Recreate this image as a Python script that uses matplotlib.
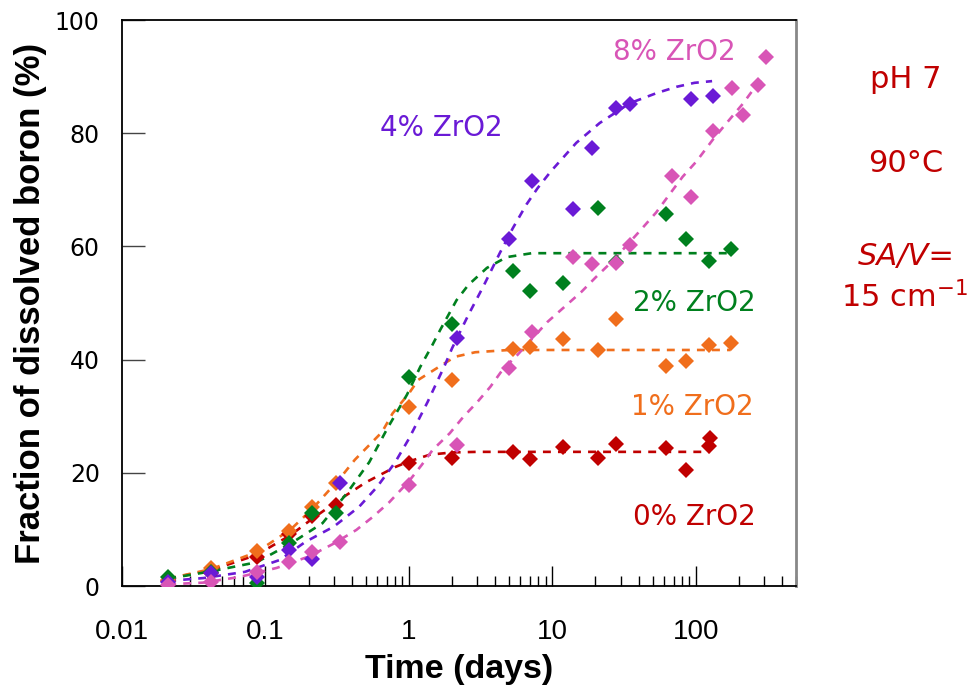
import matplotlib
matplotlib.use("Agg")
import matplotlib.pyplot as plt
from matplotlib.ticker import LogLocator, NullFormatter

# measured points: time (days) and dissolved boron fraction (%)
t_0 = [0.021, 0.042, 0.087, 0.146, 0.21, 0.31, 1.0, 2.0, 5.3, 7.0, 11.8, 20.7, 27.7, 61.8, 85, 123, 126]
y_0 = [0.9, 2.3, 5.1, 9.2, 12.4, 14.3, 21.7, 22.6, 23.7, 22.4, 24.6, 22.6, 25.1, 24.4, 20.5, 24.7, 26.1]

t_1 = [0.021, 0.042, 0.087, 0.146, 0.21, 0.31, 1.0, 2.0, 5.3, 7.0, 11.8, 20.7, 27.7, 61.8, 85, 123, 175]
y_1 = [1.0, 3.2, 6.2, 9.7, 14.0, 18.2, 31.6, 36.4, 41.9, 42.2, 43.6, 41.7, 47.1, 38.8, 39.7, 42.5, 42.9]

t_2 = [0.021, 0.042, 0.087, 0.146, 0.21, 0.31, 1.0, 2.0, 5.3, 7.0, 11.8, 20.7, 27.7, 61.8, 85, 123, 175]
y_2 = [1.6, 2.5, 0.5, 7.6, 12.9, 12.9, 37.0, 46.3, 55.7, 52.1, 53.5, 66.7, 57.3, 65.8, 61.3, 57.4, 59.6]

t_4 = [0.021, 0.042, 0.087, 0.146, 0.21, 0.33, 2.15, 5.0, 7.2, 13.9, 18.8, 27.7, 34.7, 92, 131]
y_4 = [0.7, 2.3, 1.6, 6.4, 4.8, 18.2, 43.8, 61.3, 71.6, 66.6, 77.4, 84.4, 85.2, 86.0, 86.5]

t_8 = [0.021, 0.042, 0.087, 0.146, 0.21, 0.33, 1.0, 2.15, 5.0, 7.2, 13.9, 18.8, 27.7, 34.7, 67.8, 92, 131, 179, 214, 270, 310]
y_8 = [0.2, 0.7, 2.5, 4.2, 6.0, 7.8, 17.8, 24.9, 38.5, 44.9, 58.1, 56.9, 57.1, 60.2, 72.4, 68.8, 80.4, 88.0, 83.2, 88.5, 93.4]

# model curves
ft_0 = [0.021, 0.042, 0.087, 0.15, 0.21, 0.33, 0.5, 0.8, 1.0, 1.4, 2.0, 3.0, 5.0, 126]
fy_0 = [1.3, 2.8, 5.5, 9.0, 11.8, 15.3, 18.3, 21.0, 22.0, 23.2, 23.6, 23.7, 23.7, 23.7]

ft_1 = [0.021, 0.042, 0.087, 0.15, 0.21, 0.33, 0.42, 0.65, 0.77, 1.0, 1.16, 1.57, 2.1, 2.9, 5.0, 175]
fy_1 = [1.3, 3.0, 6.0, 10.0, 13.5, 19.0, 22.3, 27.2, 30.5, 34.0, 36.4, 38.5, 40.5, 41.3, 41.7, 41.7]

ft_2 = [0.021, 0.042, 0.087, 0.15, 0.25, 0.37, 0.53, 0.71, 0.97, 1.2, 1.46, 1.65, 2.15, 2.6, 3.5, 4.8, 7.2, 175]
fy_2 = [1.3, 2.6, 4.2, 7.5, 11.1, 16.4, 21.9, 27.9, 33.8, 38.7, 42.6, 45.2, 50.5, 53.2, 56.2, 58.1, 58.8, 58.8]

ft_4 = [0.021, 0.037, 0.072, 0.126, 0.19, 0.3, 0.45, 0.6, 0.8, 1.0, 1.35, 1.78, 2.0, 2.6, 3.3, 4.3, 5.3, 6.6, 7.9,
        9.8, 14.7, 21.4, 34.7, 53.5, 73.6, 98, 130]
fy_4 = [0.9, 1.4, 2.5, 4.6, 7.8, 10.5, 14.0, 17.5, 21.8, 26.0, 32.5, 39.0, 42.0, 47.9, 52.9, 58.8, 63.2, 67.4, 70.3,
        73.3, 78.3, 81.8, 85.3, 87.1, 88.2, 88.9, 89.2]

ft_8 = [0.021, 0.037, 0.066, 0.12, 0.2, 0.3, 0.43, 0.56, 0.73, 1.0, 1.23, 1.46, 1.93, 2.4, 3.0, 3.7, 4.5, 5.7, 7.3,
        9.2, 16, 20, 26.5, 40, 53, 67, 81, 101, 131, 158, 213, 250, 280, 310]
fy_8 = [0.3, 0.6, 1.6, 3.2, 5.2, 7.5, 9.9, 12.2, 14.8, 18.5, 21.4, 24.0, 27.0, 29.9, 32.5, 35.2, 38.2, 40.8, 43.8,
        46.6, 52.0, 54.5, 57.5, 62.5, 66.0, 69.5, 72.3, 75.0, 78.8, 81.3, 85.2, 87.6, 89.0, 90.0]

labels = ["0% ZrO2", "1% ZrO2", "2% ZrO2", "4% ZrO2", "8% ZrO2"]
colors = ["#c00000", "#f06e1c", "#00801e", "#6a1ad6", "#d855b6"]
label_pos = [(98, 12.2), (94, 31.6), (98, 50.0), (1.67, 80.9), (71, 94.3)]

x_ticks = [0.01, 0.1, 1, 10, 100]
x_tick_labels = ["0.01", "0.1", "1", "10", "100"]
y_ticks = [0, 20, 40, 60, 80, 100]

points = [(t_0, y_0), (t_1, y_1), (t_2, y_2), (t_4, y_4), (t_8, y_8)]
curves = [(ft_0, fy_0), (ft_1, fy_1), (ft_2, fy_2), (ft_4, fy_4), (ft_8, fy_8)]

fig = plt.figure(figsize=(9.69, 6.91), dpi=100)
ax = fig.add_axes([122 / 969, 1 - 586 / 691, 674 / 969, 566 / 691])

for (ft, fy), c in zip(curves, colors):
    ax.plot(ft, fy, color=c, lw=1.9, linestyle=(0, (3.0, 2.7)), zorder=2)
for (t, y), c in zip(points, colors):
    ax.plot(t, y, linestyle="none", marker="D", ms=8, color=c, mew=0, zorder=3)

for text, (x, y), c in zip(labels, label_pos, colors):
    ax.text(x, y, text, color=c, fontsize=20, family="DejaVu Sans", ha="center", va="center")

ax.set_xscale("log")
ax.set_xlim(0.01, 500)
ax.set_ylim(0, 100)
ax.set_xticks(x_ticks)
ax.set_xticklabels(x_tick_labels)
ax.xaxis.set_minor_locator(LogLocator(base=10, subs=range(2, 10)))
ax.xaxis.set_minor_formatter(NullFormatter())
ax.set_yticks(y_ticks)

ax.tick_params(axis="x", which="major", direction="in", length=14.4, width=1, pad=24, labelsize=20)
ax.tick_params(axis="x", which="minor", direction="in", length=7.2, width=1)
ax.tick_params(axis="y", direction="in", length=16.5, width=1, pad=16, labelsize=17, color="#444444")
for lab in ax.get_xticklabels():
    lab.set_family("Liberation Sans")
for lab in ax.get_yticklabels():
    lab.set_family("DejaVu Sans")

ax.set_xlabel("Time (days)", fontsize=24.5, fontweight="bold", family="Liberation Sans", labelpad=6)
ax.set_ylabel("Fraction of dissolved boron (%)", fontsize=25, fontweight="bold", family="Liberation Sans", labelpad=6)

for s in ["left", "bottom", "top"]:
    ax.spines[s].set_linewidth(1.3)
ax.spines["right"].set_color("#888888")
ax.spines["right"].set_linewidth(2)

# experimental conditions, right of the plot
red = "#c00000"
fig.text(906 / 969, 1 - 79 / 691, "pH 7", color=red, fontsize=22, ha="center", va="center")
fig.text(906 / 969, 1 - 164 / 691, "90°C", color=red, fontsize=22, ha="center", va="center")
fig.text(906 / 969, 1 - 256 / 691, "SA/V=", color=red, fontsize=22, style="italic", ha="center", va="center")
fig.text(904 / 969, 1 - 297 / 691, "15 cm$^{-1}$", color=red, fontsize=22, ha="center", va="center")

fig.savefig("out.png", dpi=100)
